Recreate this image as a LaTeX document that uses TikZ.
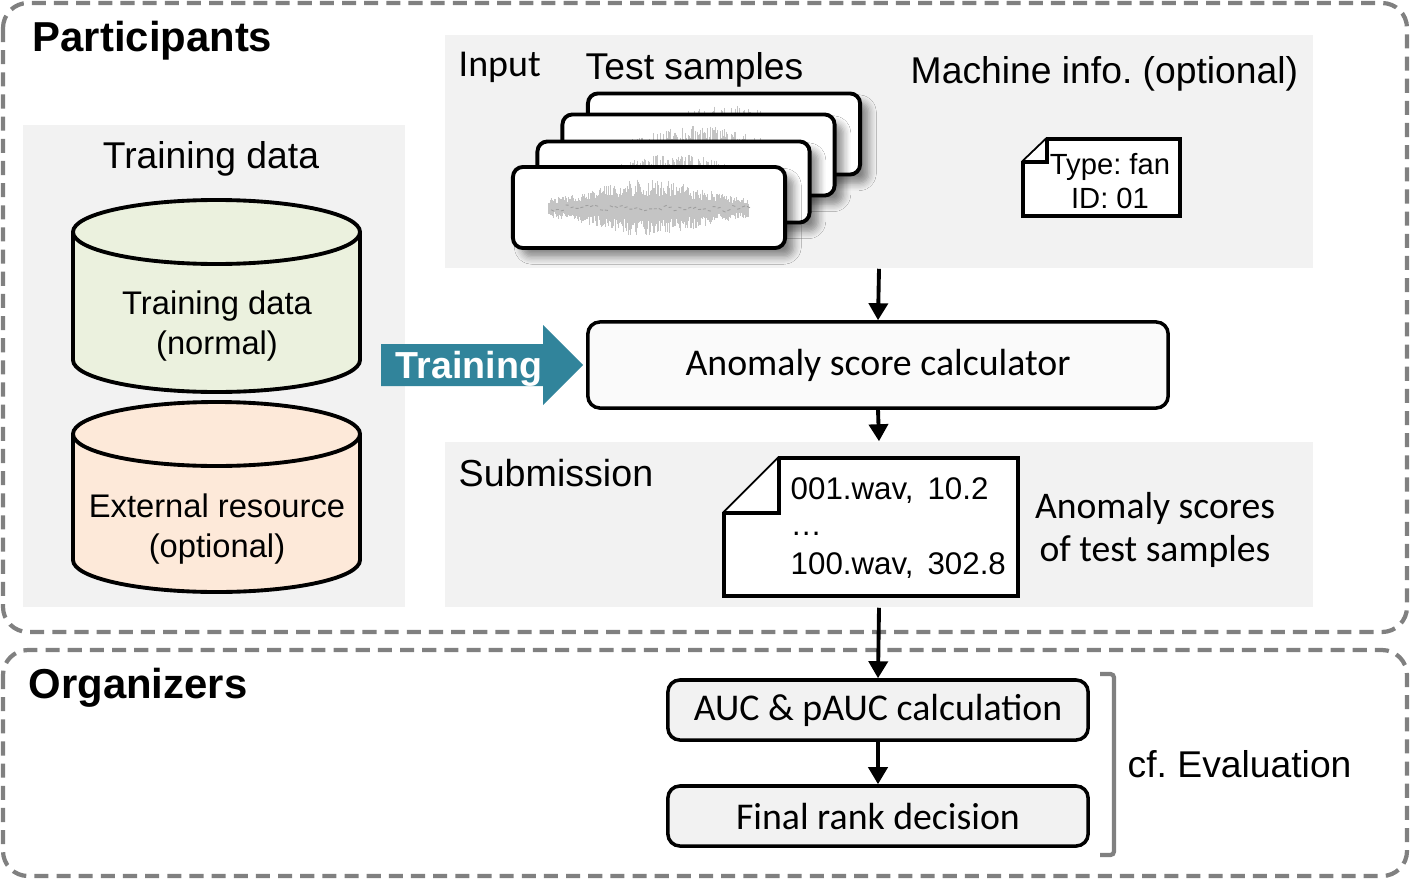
\documentclass[tikz,border=0pt]{standalone}
\usepackage{fontspec}
\setmainfont{Liberation Sans}
\newfontfamily\calib{Carlito}
\frenchspacing
\usetikzlibrary{arrows.meta,shadows.blur}
\definecolor{dashgray}{HTML}{808080}
\definecolor{panel}{HTML}{F2F2F2}
\definecolor{cylgreen}{HTML}{EBF1DE}
\definecolor{cylorange}{HTML}{FDE9D9}
\definecolor{teal}{HTML}{31849B}
\definecolor{wavecol}{HTML}{C4C4C4}
\tikzset{
  group/.style={draw=dashgray,line width=1.2pt,dash pattern=on 4pt off 2.3pt,rounded corners=0.25cm},
  panelbox/.style={fill=panel,draw=none,inner sep=0pt},
  box/.style={draw=black,line width=1pt,rounded corners=0.12cm,fill=#1,inner sep=0pt,font=\calib\fontsize{10.75}{12}\selectfont},
  card/.style={draw=black,line width=1.1pt,rounded corners=0.1cm,fill=white,minimum width=2.72cm,minimum height=0.81cm,inner sep=0pt,
     blur shadow={shadow xshift=2.5pt,shadow yshift=-2.5pt,shadow blur steps=6,shadow opacity=45}},
  arr/.style={line width=1.1pt,-{Triangle[width=0.19cm,length=0.17cm]}},
  lbl/.style={inner sep=0pt,anchor=base},
  doc/.style={draw=black,line width=1.1pt,fill=white,line join=miter},
}
\newcommand\mywave[2]{%
  \foreach \k in {0,...,190}{%
    \pgfmathsetmacro\xx{#1-100+\k*1.05}%
    \pgfmathsetmacro\env{6+23*exp(-((\k-95)/70)^2)}%
    \pgfmathsetmacro\up{\env*(0.4+0.6*rnd)}%
    \pgfmathsetmacro\dn{\env*(0.4+0.6*rnd)}%
    \draw[wavecol,line width=0.3pt] (\xx,#2-\up) -- (\xx,#2+\dn);
  }%
  \foreach \k in {0,...,40}{%
    \pgfmathsetmacro\xx{#1-98+\k*4.9}%
    \pgfmathsetmacro\aa{6*(rnd-0.5)}%
    \draw[gray!75,line width=0.25pt] (\xx,#2+\aa) -- ++(3,-3*rnd+1.5);
  }%
}
\begin{document}
\begin{tikzpicture}[x=0.01cm,y=-0.01cm]
\useasboundingbox (0,0) rectangle (1410,879);
\pgfmathsetseed{7}
% group frames
\draw[group] (3,3) rectangle (1407,632);
\draw[group] (3,650) rectangle (1407,876);
\node[lbl,font=\bfseries\fontsize{11.9}{14}\selectfont,anchor=base west] (part) at (32,52) {Participants};
\node[lbl,font=\bfseries\fontsize{11.9}{14}\selectfont,anchor=base west] (org) at (28,698) {Organizers};
% panels
\fill[panel] (23,125) rectangle (405,607);
\fill[panel] (445,35) rectangle (1313,268);
\node[panelbox,minimum width=8.68cm,minimum height=2.33cm] (inp) at (879,151.5) {};
\node[panelbox,minimum width=8.68cm,minimum height=1.65cm] (sub) at (879,524.5) {};
% training data title
\node[lbl,font=\fontsize{10.6}{13}\selectfont] (tdt) at (211,169) {Training data};
% cylinder 1
\fill[cylgreen] (73,232) rectangle (360,360);
\fill[cylgreen] (216.5,360) ellipse [x radius=143.5,y radius=32];
\draw[line width=1.1pt] (360,232) -- (360,360) arc[start angle=0,end angle=180,x radius=143.5,y radius=32] -- (73,232);
\draw[line width=1.1pt,fill=cylgreen] (216.5,232) ellipse [x radius=143.5,y radius=32];
\node[lbl,font=\fontsize{9.3}{11}\selectfont] (cyl1a) at (217,314) {Training data};
\node[lbl,font=\fontsize{9.3}{11}\selectfont] (cyl1b) at (217,354) {(normal)};
% cylinder 2
\fill[cylorange] (73,434) rectangle (360,560);
\fill[cylorange] (216.5,560) ellipse [x radius=143.5,y radius=32];
\draw[line width=1.1pt] (360,434) -- (360,560) arc[start angle=0,end angle=180,x radius=143.5,y radius=32] -- (73,434);
\draw[line width=1.1pt,fill=cylorange] (216.5,434) ellipse [x radius=143.5,y radius=32];
\node[lbl,font=\fontsize{9.3}{11}\selectfont] (cyl2a) at (217,517) {External resource};
\node[lbl,font=\fontsize{9.3}{11}\selectfont] (cyl2b) at (217,557) {(optional)};
% input labels
\node[lbl,font=\calib\fontsize{10.8}{13}\selectfont,anchor=base west] (inl) at (458,77) {Input};
\node[lbl,font=\fontsize{10.6}{13}\selectfont,anchor=base west] (tsl) at (585,80) {Test samples};
\node[lbl,font=\fontsize{10.6}{13}\selectfont,anchor=base west] (mil) at (910,84) {Machine info. (optional)};
% cards
\node[card] (c4) at (724,134) {};
\mywave{724}{134}
\node[card] (c3) at (698.5,155) {};
\mywave{698.5}{155}
\node[card] (c2) at (673.5,182) {};
\mywave{673.5}{182}
\node[card] (c1) at (649,207.5) {};
\mywave{649}{208}
% machine info doc
\draw[doc] (1023,162) -- (1047,139) -- (1180,139) -- (1180,216) -- (1023,216) -- cycle;
\draw[doc] (1023,162) -- (1047,162) -- (1047,139);
\node[lbl,font=\fontsize{8.3}{10}\selectfont] (typ) at (1110,174) {Type: fan};
\node[lbl,font=\fontsize{8.3}{10}\selectfont] (idl) at (1110,208) {ID: 01};
% anomaly score calculator
\node[box=gray!4,minimum width=5.8cm,minimum height=0.86cm] (calc) at (878,365) {Anomaly score calculator};
% training arrow
\fill[teal] (381,344) -- (543,344) -- (543,325) -- (583,365) -- (543,405) -- (543,386) -- (381,386) -- cycle;
\node[lbl,text=white,font=\bfseries\fontsize{10.7}{13}\selectfont] (trn) at (469,378) {Training};
% submission
\node[lbl,font=\fontsize{10.7}{13}\selectfont,anchor=base west] (subl) at (458,486) {Submission};
\draw[doc] (724,513) -- (779,458) -- (1018,458) -- (1018,596) -- (724,596) -- cycle;
\draw[doc] (724,513) -- (779,513) -- (779,458);
\node[lbl,font=\fontsize{8.9}{10}\selectfont,anchor=base west] (s1) at (790,499) {001.wav,\, 10.2};
\node[lbl,font=\fontsize{8.9}{10}\selectfont,anchor=base west] (s2) at (790,535) {\ldots};
\node[lbl,font=\fontsize{8.9}{10}\selectfont,anchor=base west] (s3) at (790,574) {100.wav,\, 302.8};
\node[lbl,font=\calib\fontsize{10.7}{13}\selectfont] (as1) at (1155,518) {Anomaly scores};
\node[lbl,font=\calib\fontsize{10.7}{13}\selectfont] (as2) at (1155,561) {of test samples};
% organizers boxes
\node[box=panel,minimum width=4.2cm,minimum height=0.6cm] (auc) at (878,710) {AUC \& pAUC calculation};
\node[box=panel,minimum width=4.2cm,minimum height=0.6cm] (fin) at (878,816) {Final rank decision};
\draw[dashgray,line width=1.2pt,rounded corners=1pt] (1100,674) -- (1114,674) -- (1114,855) -- (1100,855);
\node[lbl,font=\fontsize{10.6}{13}\selectfont,anchor=base west] (cfe) at (1127,777) {cf. Evaluation};
% arrows
\draw[arr] (inp.south) -- (calc.north);
\draw[arr] (calc.south) -- (sub.north);
\draw[arr] (sub.south) -- (auc.north);
\draw[arr] (auc.south) -- (fin.north);
\end{tikzpicture}
\end{document}
